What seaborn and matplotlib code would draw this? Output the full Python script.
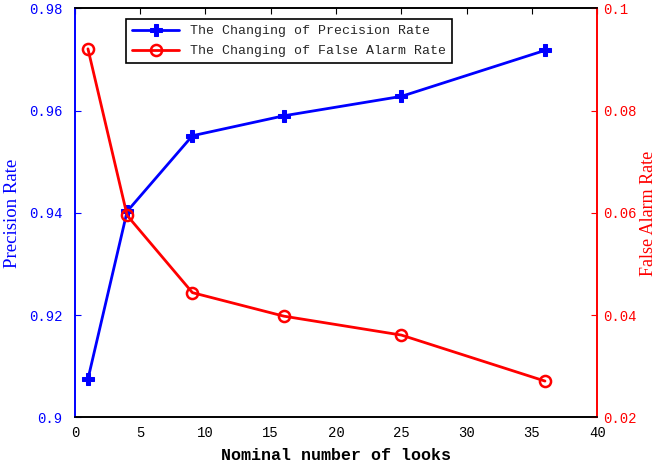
import numpy as np
import pandas as pd
import matplotlib
matplotlib.use('Agg')
import matplotlib.pyplot as plt
import seaborn as sns

#data
looks = [1, 4, 9, 16, 25, 36]
precision = [0.9075, 0.9403, 0.9551, 0.9590, 0.9628, 0.9718]
false_alarm = [0.0921, 0.0595, 0.0444, 0.0398, 0.0361, 0.0271]

x_ticks = [0, 5, 10, 15, 20, 25, 30, 35, 40]
left_ticks = [0.9, 0.92, 0.94, 0.96, 0.98]
right_ticks = [0.02, 0.04, 0.06, 0.08, 0.1]

df = pd.DataFrame({'looks': looks, 'precision': precision, 'false_alarm': false_alarm})

sns.set_style('white')
plt.rcParams['font.family'] = ['Liberation Mono', 'DejaVu Sans Mono']
plt.rcParams['xtick.direction'] = 'in'
plt.rcParams['ytick.direction'] = 'in'

fig = plt.figure(figsize=(6.57, 4.70), dpi=100)
ax = fig.add_axes([0.114, 0.112, 0.795, 0.870])
ax2 = ax.twinx()

#precision on left axis
sns.lineplot(data=df, x='looks', y='precision', ax=ax, color='blue', linewidth=2,
             marker='P', markersize=8, markeredgecolor='blue',
             label='The Changing of Precision Rate', legend=False)
#false alarm on right axis
sns.lineplot(data=df, x='looks', y='false_alarm', ax=ax2, color='red', linewidth=2,
             marker='o', markersize=8, markerfacecolor='none', markeredgecolor='red',
             markeredgewidth=1.8, label='The Changing of False Alarm Rate', legend=False)

ax.set_xlim(0, 40)
ax.set_ylim(0.9, 0.98)
ax2.set_ylim(0.02, 0.1)
ax.set_xticks(x_ticks)
ax.set_yticks(left_ticks)
ax2.set_yticks(right_ticks)
ax.set_yticklabels(['0.9', '0.92', '0.94', '0.96', '0.98'])
ax2.set_yticklabels(['0.02', '0.04', '0.06', '0.08', '0.1'])

ax.tick_params(axis='x', colors='black', labelsize=10, length=4, top=True, pad=6)
ax.tick_params(axis='y', colors='blue', labelsize=10, length=4, pad=9)
ax2.tick_params(axis='y', colors='red', labelsize=10, length=4, pad=4)

ax.set_xlabel('Nominal number of looks', fontsize=12, fontweight='bold', color='black', labelpad=6)
ax.set_ylabel('Precision Rate', fontsize=13.5, color='blue', family='Liberation Serif', labelpad=6)
ax2.set_ylabel('False Alarm Rate', fontsize=13, color='red', family='Liberation Serif', labelpad=3)

for s in ['left', 'right', 'top', 'bottom']:
    ax.spines[s].set_visible(True)
    ax2.spines[s].set_visible(True)
    ax.spines[s].set_color('black')
    ax2.spines[s].set_color('black')
ax.spines['left'].set_color('blue')
ax2.spines['left'].set_color('blue')
ax2.spines['right'].set_color('red')
ax.spines['right'].set_color('red')
for a in [ax, ax2]:
    for s in a.spines.values():
        s.set_linewidth(1.2)

#legend with both lines
h1, l1 = ax.get_legend_handles_labels()
h2, l2 = ax2.get_legend_handles_labels()
leg = ax2.legend(h1 + h2, l1 + l2, loc='upper left', bbox_to_anchor=(0.085, 0.99),
                 fancybox=False, edgecolor='black', framealpha=1, fontsize=9.5,
                 handlelength=3.6, borderpad=0.45, labelspacing=0.6)
leg.get_frame().set_linewidth(1.2)

fig.savefig('out.png', dpi=100)
